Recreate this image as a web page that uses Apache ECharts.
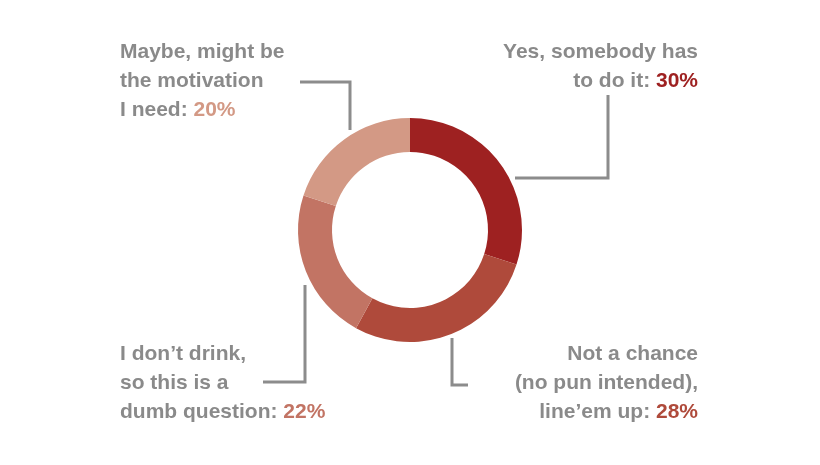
<!DOCTYPE html>
<html><head><meta charset="utf-8">
<script src="https://cdn.jsdelivr.net/npm/echarts@6/dist/echarts.min.js"></script>
<style>html,body{margin:0;background:#fff}#c{width:820px;height:465px}</style>
</head><body><div id="c"></div>
<script>
var names = ['Yes, somebody has\nto do it: ', 'Not a chance\n(no pun intended),\nline\u2019em up: ', 'I don\u2019t drink,\nso this is a\ndumb question: ', 'Maybe, might be\nthe motivation\nI need: '];
var values = [30, 28, 22, 20];
var colors = ['#9e2121', '#af4a3b', '#c27464', '#d39985'];
// label anchor spots [x, y, align]
var spots = [[698, 38, 'right'], [698, 340, 'right'], [120, 340, 'left'], [120, 38, 'left']];

var chart = echarts.init(document.getElementById('c'));
var data = values.map(function (v, i) {
    var lines = names[i].split('\n');
    var last = lines.pop();
    var txt = lines.map(function (l) { return '{t|' + l + '}'; }).join('\n') + '\n{t|' + last + '}{p' + i + '|' + v + '%}';
    return { value: v, name: names[i], itemStyle: { color: colors[i] }, label: { formatter: txt } };
});
var rich = { t: { color: '#8a8a8a', fontSize: 21, fontWeight: 'bold', lineHeight: 29, fontFamily: 'Liberation Sans' } };
colors.forEach(function (c, i) {
    rich['p' + i] = { color: c, fontSize: 21, fontWeight: 'bold', lineHeight: 29, fontFamily: 'Liberation Sans' };
});
var grey = { stroke: '#8c8c8c', lineWidth: 3, fill: null };
chart.setOption({
    animation: false,
    series: [{
        type: 'pie',
        center: [410, 230],
        radius: [78, 112],
        startAngle: 90,
        data: data,
        label: { show: true, rich: rich },
        labelLine: { show: false },
        labelLayout: function (p) {
            var s = spots[p.dataIndex];
            return { x: s[0], y: s[1], align: s[2], verticalAlign: 'top' };
        }
    }],
    graphic: [
        { type: 'polyline', shape: { points: [[515, 178], [608, 178], [608, 95]] }, style: grey },
        { type: 'polyline', shape: { points: [[300, 82], [350, 82], [350, 130]] }, style: grey },
        { type: 'polyline', shape: { points: [[263, 382], [305, 382], [305, 285]] }, style: grey },
        { type: 'polyline', shape: { points: [[452, 338], [452, 385], [468, 385]] }, style: grey }
    ]
});
</script></body></html>
